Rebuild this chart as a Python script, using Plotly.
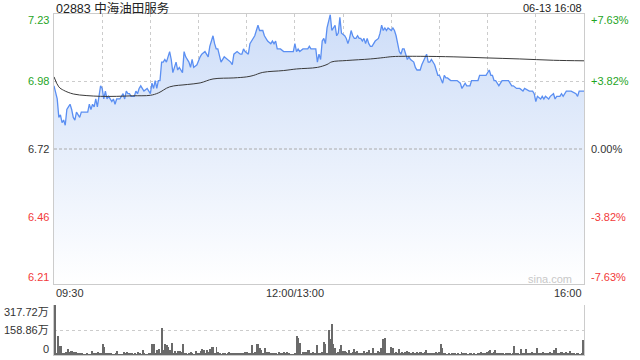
import plotly.graph_objects as go

# ---------------- data ----------------
prev_close = 6.72
title_text = "02883 中海油田服务"
stamp_text = "06-13 16:08"
watermark = "sina.com"

times = [
    "09:30", "09:32", "09:33", "09:34", "09:35", "09:36", "09:37", "09:38", "09:39", "09:40",
    "09:41", "09:42", "09:43", "09:44", "09:46", "09:47", "09:48", "09:51", "09:52", "09:53",
    "09:54", "09:55", "09:56", "09:57", "09:58", "09:59", "10:00", "10:01", "10:02", "10:03",
    "10:04", "10:06", "10:07", "10:08", "10:09", "10:11", "10:13", "10:14", "10:15", "10:16",
    "10:17", "10:18", "10:20", "10:21", "10:22", "10:23", "10:24", "10:25", "10:26", "10:28",
    "10:29", "10:30", "10:31", "10:32", "10:33", "10:34", "10:35", "10:36", "10:37", "10:38",
    "10:39", "10:40", "10:42", "10:43", "10:44", "10:45", "10:46", "10:47", "10:48", "10:50",
    "10:51", "10:52", "10:54", "10:55", "10:56", "10:57", "10:59", "11:01", "11:02", "11:04",
    "11:06", "11:07", "11:09", "11:10", "11:11", "11:12", "11:14", "11:16", "11:18", "11:20",
    "11:21", "11:22", "11:24", "11:26", "11:27", "11:28", "11:29", "11:31", "11:32", "11:34",
    "11:35", "11:37", "11:38", "11:40", "11:41", "11:43", "11:45", "11:46", "11:47", "11:48",
    "11:49", "11:51", "11:53", "11:55", "11:58", "11:59", "13:00", "13:01", "13:02", "13:03",
    "13:05", "13:08", "13:09", "13:10", "13:13", "13:14", "13:15", "13:16", "13:17", "13:18",
    "13:19", "13:20", "13:22", "13:23", "13:25", "13:26", "13:27", "13:28", "13:29", "13:31",
    "13:32", "13:33", "13:34", "13:35", "13:36", "13:37", "13:38", "13:39", "13:40", "13:41",
    "13:42", "13:43", "13:44", "13:45", "13:46", "13:47", "13:48", "13:50", "13:52", "13:53",
    "13:54", "13:55", "13:56", "13:57", "13:58", "14:00", "14:01", "14:02", "14:03", "14:05",
    "14:06", "14:07", "14:08", "14:10", "14:11", "14:12", "14:14", "14:15", "14:16", "14:18",
    "14:19", "14:21", "14:22", "14:23", "14:24", "14:25", "14:26", "14:27", "14:29", "14:30",
    "14:32", "14:33", "14:34", "14:35", "14:37", "14:39", "14:41", "14:43", "14:44", "14:45",
    "14:46", "14:47", "14:49", "14:50", "14:52", "14:54", "14:55", "14:57", "14:59", "15:01",
    "15:02", "15:03", "15:04", "15:05", "15:07", "15:08", "15:09", "15:11", "15:13", "15:15",
    "15:16", "15:18", "15:20", "15:22", "15:23", "15:26", "15:28", "15:29", "15:30", "15:31",
    "15:33", "15:34", "15:35", "15:36", "15:38", "15:39", "15:41", "15:42", "15:43", "15:45",
    "15:46", "15:47", "15:49", "15:50", "15:52", "15:55", "15:56", "15:57", "15:59", "16:00",
]
prices = [
    6.96, 6.91, 6.84, 6.85, 6.82, 6.83, 6.81, 6.87, 6.88, 6.89,
    6.87, 6.84, 6.83, 6.86, 6.84, 6.86, 6.86, 6.86, 6.89, 6.87,
    6.89, 6.88, 6.91, 6.88, 6.92, 6.96, 6.95, 6.91, 6.94, 6.91,
    6.92, 6.90, 6.91, 6.89, 6.91, 6.91, 6.93, 6.91, 6.94, 6.93,
    6.93, 6.92, 6.92, 6.94, 6.93, 6.95, 6.96, 6.95, 6.94, 6.95,
    6.94, 6.93, 6.97, 6.95, 6.98, 6.95, 6.98, 6.98, 7.05, 7.05,
    7.06, 7.05, 7.09, 7.06, 7.01, 7.03, 7.05, 7.02, 7.03, 7.01,
    7.09, 7.07, 7.05, 7.03, 7.06, 7.03, 7.04, 7.07, 7.08, 7.09,
    7.07, 7.11, 7.15, 7.12, 7.10, 7.10, 7.05, 7.07, 7.06, 7.05,
    7.04, 7.08, 7.09, 7.08, 7.08, 7.10, 7.09, 7.08, 7.12, 7.14,
    7.15, 7.19, 7.17, 7.17, 7.15, 7.13, 7.12, 7.13, 7.12, 7.13,
    7.10, 7.10, 7.09, 7.09, 7.09, 7.09, 7.12, 7.09, 7.10, 7.09,
    7.10, 7.10, 7.11, 7.10, 7.10, 7.05, 7.08, 7.06, 7.13, 7.14,
    7.12, 7.18, 7.23, 7.17, 7.19, 7.15, 7.16, 7.22, 7.16, 7.15,
    7.14, 7.12, 7.14, 7.17, 7.15, 7.14, 7.14, 7.15, 7.14, 7.14,
    7.13, 7.14, 7.12, 7.14, 7.12, 7.11, 7.11, 7.13, 7.14, 7.16,
    7.19, 7.17, 7.18, 7.17, 7.18, 7.17, 7.18, 7.17, 7.15, 7.09,
    7.08, 7.10, 7.10, 7.06, 7.07, 7.06, 7.05, 7.03, 7.02, 7.02,
    7.04, 7.07, 7.08, 7.05, 7.05, 7.06, 7.05, 7.04, 7.00, 7.00,
    6.97, 7.00, 6.99, 6.99, 6.98, 6.98, 6.98, 6.97, 6.95, 6.96,
    6.97, 6.96, 6.96, 6.98, 6.98, 6.98, 7.00, 7.00, 7.00, 7.02,
    7.00, 7.00, 6.98, 6.98, 6.96, 6.97, 6.98, 6.98, 6.98, 6.96,
    6.96, 6.95, 6.95, 6.94, 6.95, 6.94, 6.94, 6.93, 6.90, 6.92,
    6.91, 6.92, 6.91, 6.92, 6.91, 6.92, 6.93, 6.91, 6.92, 6.92,
    6.93, 6.92, 6.94, 6.94, 6.94, 6.93, 6.92, 6.94, 6.94, 6.94,
]

avg_times = [
    "09:30", "09:33", "09:36", "09:42", "09:50", "09:59", "10:09", "10:19", "10:30", "10:35",
    "10:42", "10:53", "11:01", "11:09", "11:22", "11:30", "11:34", "11:40", "11:53", "13:01",
    "13:14", "13:20", "13:23", "13:32", "13:47", "13:55", "14:01", "14:18", "14:39", "14:59",
    "15:20", "15:41", "16:00",
]
avg_prices = [
    6.994, 6.956, 6.943, 6.929, 6.923, 6.920, 6.920, 6.922, 6.924, 6.933,
    6.956, 6.965, 6.971, 6.986, 6.990, 6.994, 6.999, 7.011, 7.018, 7.024,
    7.030, 7.041, 7.051, 7.056, 7.062, 7.067, 7.071, 7.072, 7.070, 7.066,
    7.062, 7.057, 7.055,
]

# volume per trading minute (万股), 09:30 ... 12:00/13:00 ... 16:00
volumes = [
    315, 8, 121, 57, 57, 15, 12, 20, 36, 20,
    25, 25, 21, 17, 15, 15, 12, 8, 6, 5,
    8, 6, 5, 27, 15, 12, 15, 17, 15, 10,
    70, 53, 15, 15, 12, 8, 6, 5, 8, 27,
    6, 5, 6, 21, 12, 17, 8, 10, 15, 6,
    15, 6, 21, 8, 6, 32, 8, 5, 6, 8,
    10, 68, 68, 15, 32, 36, 12, 174, 32, 70,
    64, 53, 32, 78, 10, 27, 10, 25, 25, 21,
    70, 8, 10, 6, 8, 17, 10, 6, 27, 8,
    15, 25, 36, 32, 12, 32, 17, 36, 49, 49,
    8, 49, 17, 8, 6, 10, 8, 6, 8, 17,
    15, 12, 10, 15, 12, 10, 15, 12, 8, 21,
    17, 8, 10, 64, 15, 21, 70, 70, 47, 32,
    10, 42, 21, 17, 17, 12, 10, 15, 8, 6,
    17, 8, 10, 21, 8, 21, 8, 6, 6, 6,
    8, 121, 106, 74, 6, 17, 17, 21, 32, 32,
    12, 21, 15, 10, 64, 12, 15, 17, 85, 70,
    12, 159, 100, 197, 70, 47, 15, 21, 36, 64,
    25, 25, 21, 12, 32, 15, 21, 36, 21, 25,
    15, 10, 8, 25, 12, 21, 32, 15, 8, 47,
    15, 8, 25, 21, 42, 104, 108, 15, 15, 8,
    53, 42, 15, 21, 10, 36, 15, 21, 8, 17,
    25, 17, 15, 8, 21, 15, 17, 8, 21, 17,
    8, 17, 32, 10, 10, 15, 8, 15, 21, 8,
    17, 70, 42, 10, 8, 6, 10, 6, 10, 8,
    15, 6, 10, 6, 17, 8, 15, 8, 6, 10,
    8, 6, 8, 6, 10, 8, 17, 8, 15, 8,
    17, 25, 32, 8, 17, 32, 8, 10, 15, 8,
    10, 6, 10, 8, 10, 6, 8, 57, 8, 10,
    6, 36, 15, 8, 38, 8, 10, 8, 21, 10,
    8, 42, 8, 10, 8, 17, 10, 15, 8, 21,
    8, 12, 32, 42, 8, 10, 17, 17, 15, 17,
    8, 8, 25, 8, 10, 6, 8, 10, 6, 8,
    95,
]

pct_ticks = [7.63, 3.82, 0.00, -3.82, -7.63]
vol_ticks = [317.72, 158.86, 0]
x_labels = ["09:30", "12:00/13:00", "16:00"]
x_label_times = ["09:30", "13:00", "16:00"]
grid_step_min = 30

# ---------------- helpers ----------------
def tmin(t):
    h, m = map(int, t.split(":"))
    mins = h * 60 + m
    if mins <= 12 * 60:
        return mins - (9 * 60 + 30)
    return 150 + mins - 13 * 60

FONT = "Liberation Sans, Arial, Noto Sans CJK SC, sans-serif"
GREEN = "#1fa51f"
RED = "#f23a3a"
DARK = "#333333"
GRID = "#cccccc"

x_end = tmin("16:00")
px = [tmin(t) for t in times]
ax = [tmin(t) for t in avg_times]
price_ticks = [prev_close * (1 + p / 100) for p in pct_ticks]
y_lo, y_hi = min(price_ticks), max(price_ticks)

XD = [54 / 640, 584 / 640]
YD_MAIN = [1 - 284 / 360, 1 - 14 / 360]
YD_VOL = [1 - 355 / 360, 1 - 305 / 360]

fig = go.Figure()

fig.add_trace(go.Scatter(
    x=px, y=prices, mode="lines",
    line=dict(color="#5b8ff2", width=1.3),
    fill="tozeroy",
    fillgradient=dict(type="vertical", start=y_lo, stop=y_hi,
                      colorscale=[[0, "rgb(255,255,255)"], [1, "rgb(205,221,248)"]]),
    xaxis="x", yaxis="y", hoverinfo="skip", showlegend=False,
))
fig.add_trace(go.Scatter(
    x=ax, y=avg_prices, mode="lines",
    line=dict(color="#3a3a3a", width=1), line_shape="spline",
    xaxis="x", yaxis="y", hoverinfo="skip", showlegend=False,
))
fig.add_trace(go.Bar(
    x=list(range(len(volumes))), y=volumes, width=0.6,
    marker=dict(color="#6a6a6a", line=dict(width=0)),
    xaxis="x2", yaxis="y2", hoverinfo="skip", showlegend=False,
))

grid_x = list(range(0, x_end + 1, grid_step_min))

fig.update_layout(
    width=640, height=360,
    margin=dict(l=0, r=0, t=0, b=0),
    paper_bgcolor="white", plot_bgcolor="rgba(0,0,0,0)",
    font=dict(family=FONT, size=11, color=DARK),
    hovermode=False, bargap=0,
    xaxis=dict(domain=XD, range=[0, x_end], tickvals=grid_x, showticklabels=False,
               showgrid=True, gridcolor=GRID, griddash="dot", gridwidth=1,
               showline=True, linecolor=GRID, linewidth=1, mirror=True,
               zeroline=False, ticks="", anchor="y", fixedrange=True),
    yaxis=dict(domain=YD_MAIN, range=[y_lo, y_hi],
               tickvals=[v for p, v in zip(pct_ticks, price_ticks) if abs(p) not in (0, 7.63)],
               showticklabels=False, showgrid=True, gridcolor=GRID, griddash="dot",
               showline=True, linecolor=GRID, linewidth=1, mirror=True,
               zeroline=False, ticks="", anchor="x", fixedrange=True),
    xaxis2=dict(domain=XD, range=[-0.5, x_end + 0.5], showticklabels=False, showgrid=False,
                showline=True, linecolor=GRID, linewidth=1, mirror=False,
                zeroline=False, ticks="", anchor="y2", fixedrange=True),
    yaxis2=dict(domain=YD_VOL, range=[0, max(vol_ticks)], tickvals=vol_ticks,
                showticklabels=False, showgrid=True, gridcolor=GRID, griddash="dot",
                showline=True, linecolor=GRID, linewidth=1, mirror=True,
                zeroline=False, ticks="", anchor="x2", fixedrange=True),
)

# previous close reference line
fig.add_shape(type="line", xref="x", yref="y", x0=0, x1=x_end, y0=prev_close, y1=prev_close,
              line=dict(color="#aaaaaa", width=1, dash="3px,2px"), layer="above")

ann = []
for i, (p, v) in enumerate(zip(pct_ticks, price_ticks)):
    col = GREEN if p > 0 else (RED if p < 0 else DARK)
    shift = -6 if i == 0 else (7 if i == len(pct_ticks) - 1 else 0)
    ann.append(dict(x=51 / 640, xref="paper", y=v, yref="y", text=f"{v:.2f}",
                    xanchor="right", yanchor="middle", yshift=shift, showarrow=False,
                    font=dict(size=11, color=col, family=FONT)))
    sign = "+" if p > 0 else ""
    ann.append(dict(x=589 / 640, xref="paper", y=v, yref="y", text=f"{sign}{p:.2f}%",
                    xanchor="left", yanchor="middle", yshift=shift, showarrow=False,
                    font=dict(size=11, color=col, family=FONT)))

for i, v in enumerate(vol_ticks):
    shift = -7 if i == 0 else (6 if i == len(vol_ticks) - 1 else 0)
    txt = "0" if v == 0 else f"{v:.2f}万"
    ann.append(dict(x=51 / 640, xref="paper", y=v, yref="y2", text=txt,
                    xanchor="right", yanchor="middle", yshift=shift, showarrow=False,
                    font=dict(size=11, color=DARK, family=FONT)))

anchors = ["left", "center", "right"]
for lab, t, a in zip(x_labels, x_label_times, anchors):
    ann.append(dict(x=tmin(t), xref="x", y=1 - 293 / 360, yref="paper", text=lab,
                    xanchor=a, yanchor="middle", showarrow=False,
                    font=dict(size=11, color=DARK, family=FONT)))

ann.append(dict(x=54 / 640, xref="paper", y=1 - 8 / 360, yref="paper", text=title_text,
                xanchor="left", yanchor="middle", showarrow=False,
                font=dict(size=12.5, color="#222222", family=FONT)))
ann.append(dict(x=584 / 640, xref="paper", y=1 - 7.5 / 360, yref="paper", text=stamp_text,
                xanchor="right", yanchor="middle", showarrow=False,
                font=dict(size=11, color="#222222", family=FONT)))
ann.append(dict(x=574 / 640, xref="paper", y=1 - 279 / 360, yref="paper", text=watermark,
                xanchor="right", yanchor="middle", showarrow=False,
                font=dict(size=11, color="#c8c8c8", family=FONT)))

fig.update_layout(annotations=ann)

fig.write_html(
    "out.html",
    config={"displayModeBar": False},
    post_script="document.body.style.margin='0';document.body.style.overflow='hidden';",
)
